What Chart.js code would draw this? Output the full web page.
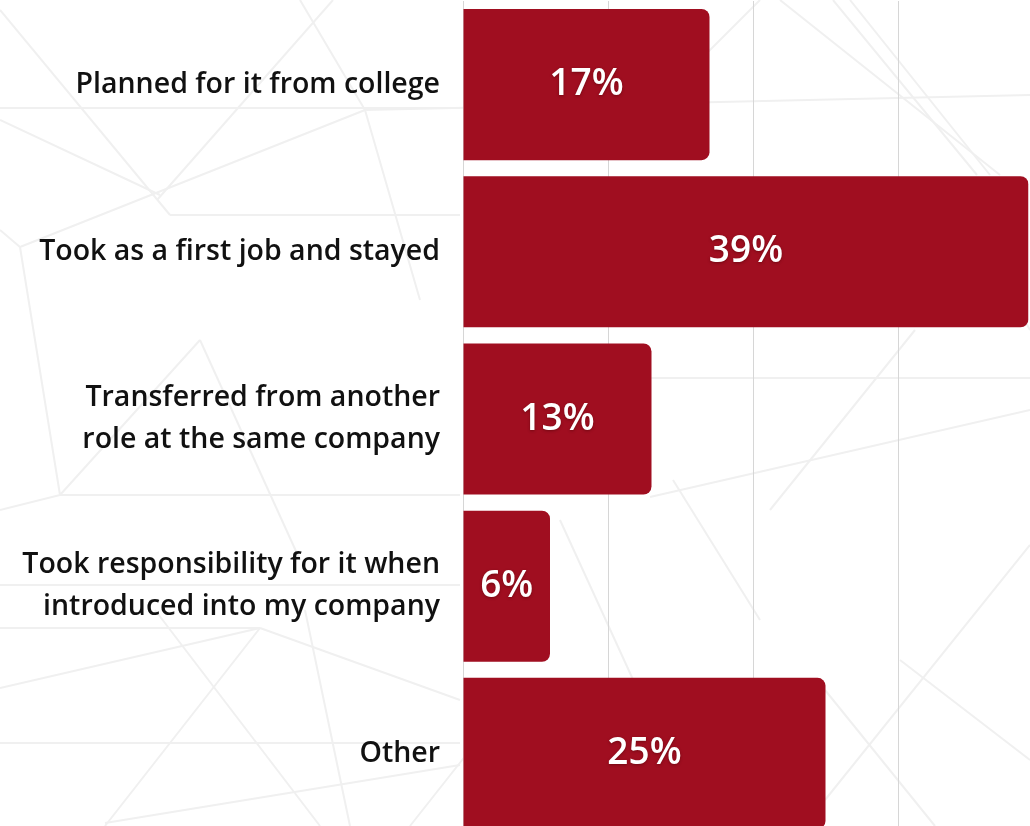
<!DOCTYPE html>
<html lang="en">
  <head>
    <meta charset="UTF-8" />
    <title>How respondents came into their role</title>
    <script src="https://cdn.jsdelivr.net/npm/chart.js"></script>
    <style>
      html, body { margin: 0; padding: 0; background: #fff; overflow: hidden; }
      .wrap { position: relative; width: 1030px; height: 837px; }
    </style>
  </head>

  <body>
    <div class="wrap">
      <canvas id="path-chart"></canvas>
    </div>

    <script>
      const categories = [
        "Planned for it from college",
        "Took as a first job and stayed",
        ["Transferred from another", "role at the same company"],
        ["Took responsibility for it when", "introduced into my company"],
        "Other",
      ];
      const shares = [17, 39, 13, 6, 25];
      const axisMax = 39;
      const gridStep = 10;

      const barColor = "#a00e20";

      // faint network of lines behind the chart
      const backdropLines = [
        [0, 10, 170, 215], [0, 108, 460, 108], [0, 120, 160, 195], [170, 215, 460, 215],
        [157, 200, 333, 0], [20, 247, 365, 110], [300, 0, 365, 110], [365, 110, 1030, 95],
        [365, 110, 420, 300], [20, 247, 0, 230], [20, 247, 60, 495], [60, 495, 200, 340],
        [60, 495, 460, 495], [0, 510, 60, 495], [0, 585, 460, 585], [200, 340, 300, 560],
        [0, 628, 260, 628], [260, 628, 0, 688], [260, 628, 105, 826], [155, 610, 320, 826],
        [260, 628, 460, 700], [305, 610, 350, 826], [0, 743, 460, 743], [105, 823, 460, 765],
        [410, 826, 470, 750], [650, 378, 1030, 378], [650, 497, 1030, 410], [770, 510, 915, 330],
        [1030, 545, 825, 800], [825, 690, 935, 826], [700, 60, 760, 0], [780, 0, 1000, 175],
        [833, 0, 977, 175], [850, 0, 990, 175], [673, 480, 760, 620], [560, 520, 700, 826],
        [900, 660, 1030, 760], [960, 200, 1030, 330],
      ];

      const backdrop = {
        id: "backdrop",
        beforeDraw(chart) {
          const ctx = chart.ctx;
          ctx.save();
          ctx.strokeStyle = "#f0f0f0";
          ctx.lineWidth = 2;
          backdropLines.forEach(([x1, y1, x2, y2]) => {
            ctx.beginPath();
            ctx.moveTo(x1, y1);
            ctx.lineTo(x2, y2);
            ctx.stroke();
          });
          ctx.restore();
        },
      };

      // white percentage in the middle of each bar
      const barLabels = {
        id: "barLabels",
        afterDatasetsDraw(chart) {
          const ctx = chart.ctx;
          const meta = chart.getDatasetMeta(0);
          ctx.save();
          ctx.font = "600 37px 'Open Sans', sans-serif";
          ctx.fillStyle = "#ffffff";
          ctx.textAlign = "center";
          ctx.textBaseline = "middle";
          ctx.shadowColor = "rgba(60, 0, 0, 0.45)";
          ctx.shadowBlur = 3;
          ctx.shadowOffsetY = 1;
          meta.data.forEach((bar, i) => {
            const cx = (bar.x + bar.base) / 2;
            ctx.fillText(shares[i] + "%", cx, bar.y);
          });
          ctx.restore();
        },
      };

      new Chart(document.getElementById("path-chart"), {
        type: "bar",
        data: {
          labels: categories,
          datasets: [
            {
              data: shares,
              backgroundColor: barColor,
              borderRadius: 8,
              barPercentage: 0.904,
              categoryPercentage: 1,
            },
          ],
        },
        options: {
          indexAxis: "y",
          responsive: true,
          maintainAspectRatio: false,
          animation: false,
          layout: { padding: { top: 1, right: 1.5, bottom: 0, left: 0 } },
          plugins: {
            legend: { display: false },
            tooltip: { enabled: false },
          },
          scales: {
            x: {
              min: 0,
              max: axisMax,
              border: { display: false },
              grid: { color: "#d6d6d6", lineWidth: 1, drawTicks: false },
              ticks: { display: false, stepSize: gridStep, includeBounds: false },
            },
            y: {
              border: { display: false },
              grid: { display: false, drawTicks: false },
              ticks: {
                color: "#111111",
                padding: 23,
                font: { family: "'Open Sans', sans-serif", size: 28.5, weight: "600", lineHeight: 1.47 },
              },
              afterFit(scale) {
                scale.width = 463;
                scale.paddingTop = 0;
                scale.paddingBottom = 0;
              },
            },
          },
        },
        plugins: [backdrop, barLabels],
      });
    </script>
  </body>
</html>
